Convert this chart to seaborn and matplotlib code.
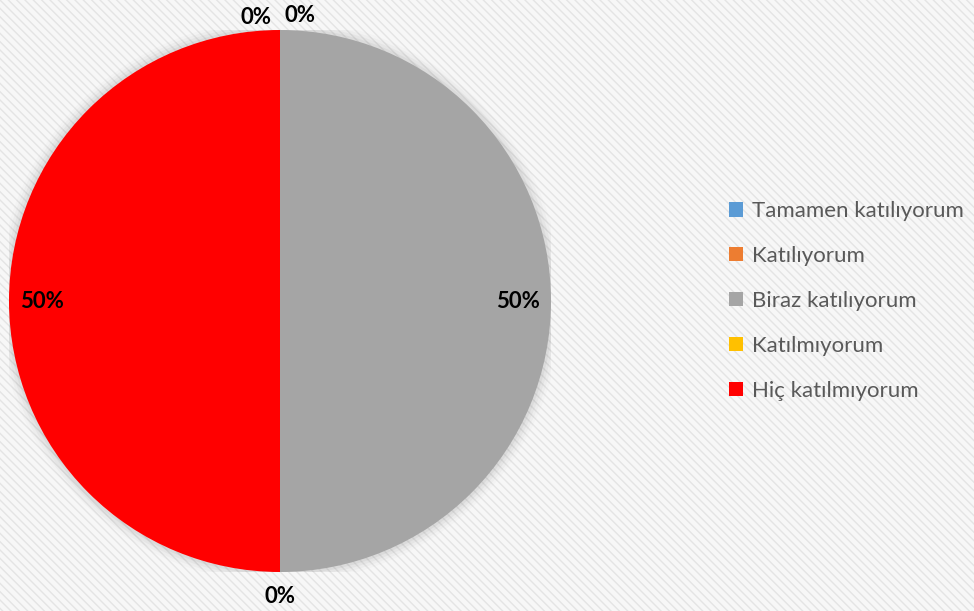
import numpy as np
import matplotlib
matplotlib.use('Agg')
import matplotlib.pyplot as plt
import seaborn as sns
from matplotlib.patches import Rectangle, Circle

# veri
categories = ['Tamamen katılıyorum', 'Katılıyorum', 'Biraz katılıyorum',
              'Katılmıyorum', 'Hiç katılmıyorum']
values = [0, 0, 50, 0, 50]
colors = ['#5B9BD5', '#ED7D31', '#A5A5A5', '#FFC000', '#FF0000']

sns.set_theme(style='white')
plt.rcParams['font.family'] = ['Lato', 'DejaVu Sans']

fig = plt.figure(figsize=(9.74, 6.11), dpi=100)
fig.patch.set_facecolor('#f7f7f7')

# arka plan deseni
bg = Rectangle((0, 0), 1, 1, transform=fig.transFigure, facecolor='#f7f7f7',
               edgecolor='#e4e4e4', hatch='\\\\\\\\', linewidth=0, zorder=-10)
fig.patches.append(bg)

W, H = 974, 611
cx, cy, r = 280, 301, 271
ax = fig.add_axes([(cx - r) / W, (H - cy - r) / H, 2 * r / W, 2 * r / H])
ax.set_facecolor('none')

# hafif gölge
for k, a in zip([1.04, 1.03, 1.02, 1.01], [0.03, 0.05, 0.07, 0.09]):
    ax.add_patch(Circle((0, 0), k, facecolor='#808080', alpha=a, linewidth=0, zorder=0))

wedges, _ = ax.pie(values, colors=sns.color_palette(colors), startangle=90,
                   counterclock=False, radius=1,
                   wedgeprops=dict(linewidth=0))
for w in wedges:
    w.set_zorder(2)

# veri etiketleri
total = sum(values)
cum = 0
zero_idx = 0
for v in values:
    mid = 90 - (cum + v / 2) / total * 360
    cum += v
    th = np.deg2rad(mid)
    txt = f'{v / total * 100:.0f}%'
    if v == 0:
        rad = 1.055 if np.sin(th) > 0 else 1.09
        x, y = rad * np.cos(th), rad * np.sin(th)
        if abs(np.cos(th)) < 1e-6 and np.sin(th) > 0:
            x += -0.09 if zero_idx == 0 else 0.075
            y -= 0.01 if zero_idx == 0 else 0.0
            zero_idx += 1
    else:
        x, y = 0.88 * np.cos(th), 0.88 * np.sin(th)
    ax.text(x, y, txt, ha='center', va='center', fontsize=16,
            fontweight='bold', color='black', zorder=5)

ax.set_xlim(-1, 1)
ax.set_ylim(-1, 1)
ax.set_aspect('auto')
ax.axis('off')

leg = fig.legend(wedges, categories, loc='center left',
                 bbox_to_anchor=(709 / W, 1 - 301 / H),
                 frameon=False, fontsize=16, handlelength=0.62,
                 handleheight=0.62, handletextpad=0.4, labelspacing=1.12)
for t in leg.get_texts():
    t.set_color('#595959')

fig.savefig('out.png', dpi=100, facecolor=fig.get_facecolor())
